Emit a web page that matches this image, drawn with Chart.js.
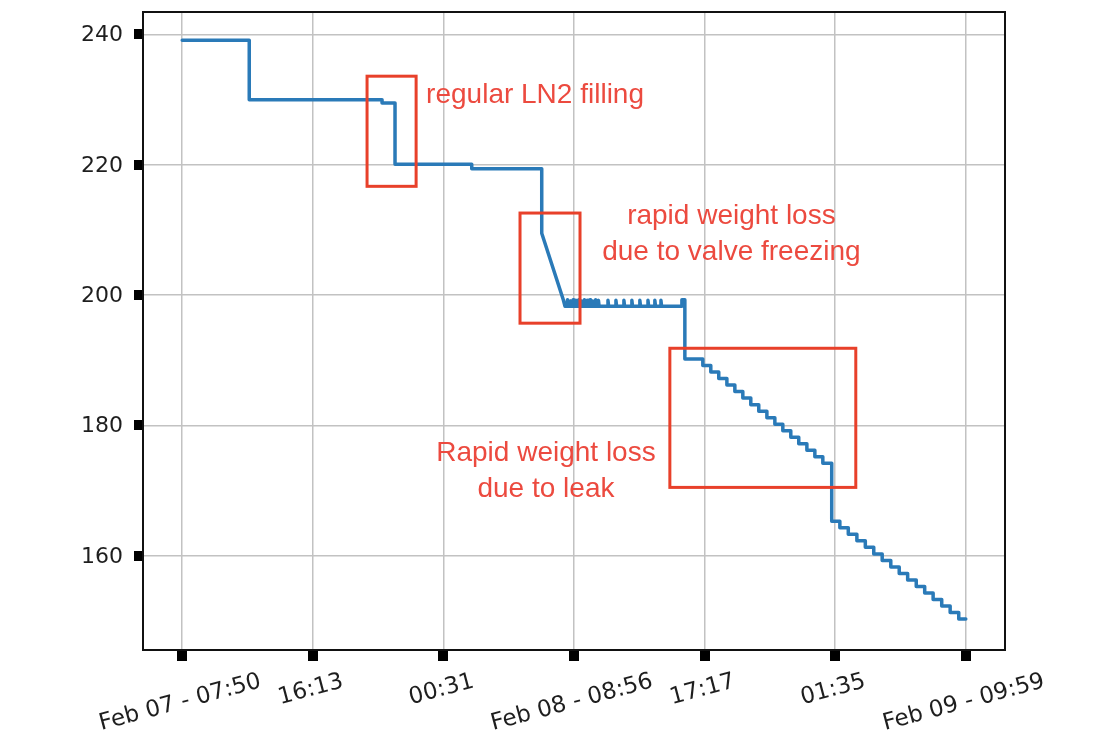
<!DOCTYPE html>
<html>
<head>
<meta charset="utf-8">
<title>LN2 weight</title>
<script src="https://cdn.jsdelivr.net/npm/chart.js@4.4.0/dist/chart.umd.min.js"></script>
<style>
  html, body { margin: 0; padding: 0; background: #fff; }
  #c { display: block; }
</style>
</head>
<body>
<canvas id="c" width="1099" height="740"></canvas>
<script>
// hours since Feb 07 07:50, tick positions and their labels
const xTickHours = [0, 8.36, 16.72, 25.07, 33.43, 41.79, 50.15];
const xTickLabels = ["Feb 07 - 07:50", "16:13", "00:31", "Feb 08 - 08:56", "17:17", "01:35", "Feb 09 - 09:59"];
const yTicks = [160, 180, 200, 220, 240];

// readings (hours, kg)
const times = [
  0, 4.29, 4.29, 12.79, 12.79, 13.62, 13.62, 18.53, 18.53, 23.01,
  23.01, 23.70, 24.39, 24.50,
  24.62, 24.66, 24.70, 24.80, 24.84, 24.88, 24.98, 25.02, 25.06,
  25.16, 25.20, 25.24, 25.34, 25.38, 25.42, 25.52, 25.56, 25.60,
  25.70, 25.74, 25.78, 25.88, 25.92, 25.96, 26.06, 26.10, 26.14,
  26.24, 26.28, 26.32, 26.42, 26.46, 26.50, 26.60, 26.64, 26.68,
  27.21, 27.25, 27.29, 27.72, 27.76, 27.80, 28.23, 28.27, 28.31,
  28.74, 28.78, 28.82, 29.25, 29.29, 29.33, 29.77, 29.81, 29.85,
  30.21, 30.25, 30.29, 30.60, 30.64, 30.68,
  31.93, 31.98, 32.17, 32.17,
  33.32, 33.32, 33.83, 33.83, 34.34, 34.34, 34.86, 34.86, 35.37, 35.37,
  35.88, 35.88, 36.39, 36.39, 36.90, 36.90, 37.42, 37.42, 37.93, 37.93,
  38.44, 38.44, 38.95, 38.95, 39.46, 39.46, 39.98, 39.98, 40.49, 40.49,
  41.00, 41.00, 41.57, 41.57,
  42.09, 42.09, 42.63, 42.63, 43.18, 43.18, 43.72, 43.72, 44.26, 44.26,
  44.80, 44.80, 45.35, 45.35, 45.89, 45.89, 46.43, 46.43, 46.98, 46.98,
  47.52, 47.52, 48.06, 48.06, 48.61, 48.61, 49.15, 49.15, 49.70, 49.70,
  50.15
];
const weights = [
  239.1, 239.1, 230.0, 230.0, 229.5, 229.5, 220.1, 220.1, 219.4, 219.4,
  209.5, 204.4, 199.3, 198.3,
  198.3, 199.3, 198.3, 198.3, 199.1, 198.3, 198.3, 199.3, 198.3,
  198.3, 199.2, 198.3, 198.3, 199.3, 198.3, 198.3, 199.1, 198.3,
  198.3, 199.3, 198.3, 198.3, 199.2, 198.3, 198.3, 199.3, 198.3,
  198.3, 199.1, 198.3, 198.3, 199.3, 198.3, 198.3, 199.2, 198.3,
  198.3, 199.2, 198.3, 198.3, 199.2, 198.3, 198.3, 199.2, 198.3,
  198.3, 199.2, 198.3, 198.3, 199.2, 198.3, 198.3, 199.2, 198.3,
  198.3, 199.2, 198.3, 198.3, 199.2, 198.3,
  198.3, 199.3, 199.3, 190.2,
  190.2, 189.2, 189.2, 188.2, 188.2, 187.2, 187.2, 186.2, 186.2, 185.2,
  185.2, 184.2, 184.2, 183.2, 183.2, 182.2, 182.2, 181.2, 181.2, 180.2,
  180.2, 179.2, 179.2, 178.2, 178.2, 177.2, 177.2, 176.2, 176.2, 175.2,
  175.2, 174.2, 174.2, 165.3,
  165.3, 164.3, 164.3, 163.3, 163.3, 162.3, 162.3, 161.3, 161.3, 160.3,
  160.3, 159.3, 159.3, 158.3, 158.3, 157.3, 157.3, 156.3, 156.3, 155.3,
  155.3, 154.3, 154.3, 153.3, 153.3, 152.3, 152.3, 151.3, 151.3, 150.3,
  150.3
];

// red boxes [x0, x1, yTop, yBottom] and notes [text, x, y, align]
const boxes = [
  [11.83, 14.97, 233.6, 216.7],
  [21.62, 25.46, 212.6, 195.7],
  [31.21, 43.11, 191.85, 170.5]
];
const notes = [
  ["regular LN2 filling", 15.61, 229.5, "left"],
  ["rapid weight loss", 35.15, 210.9, "center"],
  ["due to valve freezing", 35.15, 205.4, "center"],
  ["Rapid weight loss", 23.28, 174.6, "center"],
  ["due to leak", 23.28, 169.1, "center"]
];

const decor = {
  id: 'decor',
  afterDatasetsDraw(chart) {
    const { ctx, chartArea: a, scales: { x, y } } = chart;
    ctx.save();
    ctx.strokeStyle = '#111';
    ctx.lineWidth = 2;
    ctx.strokeRect(a.left, a.top, a.right - a.left, a.bottom - a.top);

    ctx.fillStyle = '#000';
    xTickHours.forEach(h => {
      const px = Math.round(x.getPixelForValue(h));
      ctx.fillRect(px - 5, a.bottom + 1, 10, 10);
    });
    yTicks.forEach(v => {
      const py = Math.round(y.getPixelForValue(v));
      ctx.fillRect(a.left - 9, py - 5, 8, 10);
    });

    ctx.font = '22px "DejaVu Sans"';
    ctx.fillStyle = '#1e1e1e';
    ctx.textAlign = 'right';
    ctx.textBaseline = 'middle';
    yTicks.forEach(v => ctx.fillText(String(v), a.left - 20, y.getPixelForValue(v) + 1));

    ctx.font = '23px "DejaVu Sans"';
    const ang = 15 * Math.PI / 180;
    ctx.textAlign = 'center';
    xTickLabels.forEach((s, i) => {
      const px = x.getPixelForValue(xTickHours[i]);
      const w = ctx.measureText(s).width;
      const bh = w * Math.sin(ang) + 17 * Math.cos(ang);
      ctx.save();
      ctx.translate(px - 2, a.bottom + 23 + bh / 2);
      ctx.rotate(-ang);
      ctx.fillText(s, 0, 0);
      ctx.restore();
    });

    ctx.strokeStyle = '#e8402a';
    ctx.lineWidth = 3;
    boxes.forEach(b => {
      const x0 = x.getPixelForValue(b[0]), x1 = x.getPixelForValue(b[1]);
      const y0 = y.getPixelForValue(b[2]), y1 = y.getPixelForValue(b[3]);
      ctx.strokeRect(x0, y0, x1 - x0, y1 - y0);
    });

    ctx.font = '28px "Liberation Sans"';
    ctx.fillStyle = '#ec4a3f';
    ctx.textBaseline = 'alphabetic';
    notes.forEach(n => {
      ctx.textAlign = n[3];
      ctx.fillText(n[0], x.getPixelForValue(n[1]), y.getPixelForValue(n[2]));
    });
    ctx.restore();
  }
};

new Chart(document.getElementById('c'), {
  type: 'line',
  data: {
    datasets: [{
      data: times.map((t, i) => ({ x: t, y: weights[i] })),
      borderColor: '#2a7ab8',
      borderWidth: 3.5,
      borderJoinStyle: 'round',
      borderCapStyle: 'round',
      pointRadius: 0,
      tension: 0,
      fill: false
    }]
  },
  options: {
    responsive: false,
    animation: false,
    layout: { padding: { left: 143, right: 94, top: 12, bottom: 90 } },
    plugins: { legend: { display: false }, tooltip: { enabled: false } },
    scales: {
      x: {
        type: 'linear', min: -2.51, max: 52.66,
        afterBuildTicks: s => { s.ticks = xTickHours.map(v => ({ value: v })); },
        ticks: { display: false },
        grid: { color: '#c2c2c2', lineWidth: 1.5, drawTicks: false },
        border: { display: false }
      },
      y: {
        min: 145.55, max: 243.45,
        afterBuildTicks: s => { s.ticks = yTicks.map(v => ({ value: v })); },
        ticks: { display: false },
        grid: { color: '#c2c2c2', lineWidth: 1.5, drawTicks: false },
        border: { display: false }
      }
    }
  },
  plugins: [decor]
});
</script>
</body>
</html>
